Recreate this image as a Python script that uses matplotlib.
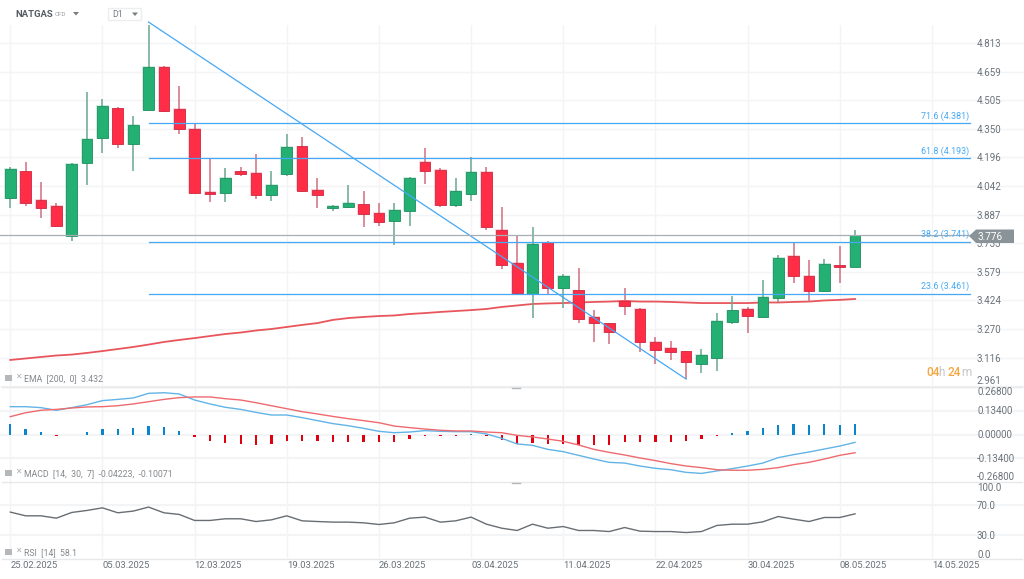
import matplotlib
matplotlib.use("Agg")
import matplotlib.pyplot as plt
from matplotlib.patches import Polygon, Rectangle

plt.rcParams['font.family'] = ['Roboto', 'DejaVu Sans']

W, H = 1024, 579

# candles
opens = [3.977, 4.122, 3.966, 3.934, 3.772, 4.166, 4.300, 4.462, 4.268, 4.452, 4.684, 4.457, 4.349, 4.009,
         4.004, 4.122, 4.112, 3.993, 4.106, 4.257, 4.020, 3.923, 3.928, 3.944, 3.896, 3.853, 3.907, 4.171,
         4.128, 3.939, 3.998, 4.117, 3.804, 3.626, 3.459, 3.739, 3.491, 3.480, 3.335, 3.302, 3.421, 3.378,
         3.200, 3.168, 3.151, 3.081, 3.113, 3.308, 3.378, 3.335, 3.437, 3.664, 3.556, 3.475, 3.615, 3.605]
closes = [4.133, 3.950, 3.923, 3.826, 4.160, 4.295, 4.473, 4.268, 4.371, 4.684, 4.446, 4.349, 4.004, 3.998,
          4.085, 4.106, 3.993, 4.047, 4.252, 4.015, 3.993, 3.934, 3.950, 3.890, 3.847, 3.912, 4.085, 4.122,
          3.939, 4.015, 4.117, 3.820, 3.615, 3.464, 3.729, 3.491, 3.556, 3.324, 3.302, 3.254, 3.394, 3.200,
          3.157, 3.146, 3.092, 3.130, 3.313, 3.372, 3.340, 3.443, 3.653, 3.556, 3.475, 3.621, 3.605, 3.776]
highs = [4.144, 4.171, 4.063, 3.950, 4.166, 4.549, 4.511, 4.468, 4.419, 4.926, 4.689, 4.581, 4.376, 4.187,
         4.139, 4.144, 4.214, 4.122, 4.322, 4.306, 4.085, 3.939, 4.047, 4.015, 3.950, 3.950, 4.090, 4.247,
         4.139, 4.085, 4.198, 4.144, 3.928, 3.777, 3.820, 3.745, 3.567, 3.599, 3.372, 3.302, 3.491, 3.383,
         3.227, 3.205, 3.151, 3.162, 3.356, 3.448, 3.389, 3.534, 3.669, 3.734, 3.642, 3.648, 3.718, 3.804]
lows = [3.923, 3.934, 3.869, 3.820, 3.745, 4.047, 4.220, 4.247, 4.122, 4.452, 4.441, 4.322, 4.004, 3.955,
        3.955, 4.095, 3.971, 3.961, 4.095, 4.009, 3.923, 3.907, 3.923, 3.820, 3.826, 3.723, 3.826, 4.052,
        3.928, 3.928, 3.961, 3.804, 3.594, 3.459, 3.329, 3.459, 3.383, 3.302, 3.200, 3.189, 3.346, 3.146,
        3.081, 3.103, 3.000, 3.033, 3.043, 3.297, 3.248, 3.329, 3.416, 3.518, 3.416, 3.470, 3.518, 3.605]
ema = [3.103, 3.111, 3.119, 3.127, 3.132, 3.141, 3.151, 3.162, 3.173, 3.186, 3.200, 3.211, 3.221, 3.232,
       3.243, 3.251, 3.262, 3.270, 3.281, 3.292, 3.302, 3.319, 3.329, 3.335, 3.340, 3.343, 3.351, 3.356,
       3.362, 3.367, 3.372, 3.378, 3.389, 3.397, 3.405, 3.408, 3.410, 3.413, 3.416, 3.418, 3.421, 3.418,
       3.418, 3.416, 3.413, 3.410, 3.410, 3.410, 3.410, 3.413, 3.413, 3.416, 3.418, 3.424, 3.427, 3.432]

macd = [.1615, .1615, .156, .141, .156, .173, .196, .203, .211, .2375, .241, .234, .1995, .177, .158, .146,
        .129, .114, .114, .099, .082, .065, .053, .038, .021, .013, .017, .025, .021, .019, .019, .006,
        -.019, -.051, -.059, -.082, -.095, -.116, -.137, -.156, -.160, -.177, -.190, -.198, -.213, -.219,
        -.205, -.192, -.177, -.160, -.129, -.112, -.097, -.080, -.063, -.042]
signal = [.1045, .127, .141, .146, .154, .160, .1615, .167, .177, .190, .203, .213, .217, .217, .207, .1995,
          .184, .167, .150, .133, .120, .106, .093, .082, .070, .051, .042, .034, .027, .023, .023, .017,
          .013, -.002, -.011, -.023, -.036, -.057, -.082, -.099, -.114, -.131, -.146, -.163, -.177, -.186,
          -.198, -.201, -.201, -.196, -.186, -.169, -.156, -.137, -.116, -.101]
hist = [.061, .034, .017, -.006, 0, .017, .034, .034, .038, .051, .044, .025, -.011, -.034, -.046, -.051,
        -.055, -.051, -.034, -.034, -.034, -.038, -.038, -.042, -.042, -.038, -.021, -.008, -.008, -.006,
        .004, -.008, -.029, -.051, -.046, -.053, -.049, -.057, -.055, -.055, -.042, -.042, -.042, -.038,
        -.034, -.025, -.006, .011, .025, .038, .055, .061, .055, .061, .055, .061]
rsi = [60.4, 55.5, 55.5, 52.4, 59.9, 62.6, 66.0, 59.5, 61.7, 67.0, 59.5, 57.3, 49.4, 49.4, 51.6, 51.6, 48.0,
       50.2, 55.5, 48.9, 48.0, 47.2, 47.2, 46.3, 44.1, 46.3, 52.4, 53.8, 47.2, 48.9, 53.8, 44.5, 39.2, 36.2,
       44.5, 39.2, 41.4, 36.2, 36.2, 34.8, 40.1, 35.3, 34.8, 34.8, 33.5, 34.8, 42.8, 44.5, 44.5, 47.6, 54.6,
       51.1, 48.0, 53.3, 53.3, 58.1]

price_ticks = [4.813, 4.659, 4.505, 4.350, 4.196, 4.042, 3.887, 3.733, 3.579, 3.424, 3.270, 3.116, 2.961]
macd_ticks = [0.268, 0.134, 0.0, -0.134, -0.268]
rsi_ticks = [100, 70, 30, 0]
date_pos = [0, 6, 12, 18, 24, 30, 36, 42, 48, 54, 60]
date_labels = ['25.02.2025', '05.03.2025', '12.03.2025', '19.03.2025', '26.03.2025', '03.04.2025',
               '11.04.2025', '22.04.2025', '30.04.2025', '08.05.2025', '14.05.2025']
fib_levels = [71.6, 61.8, 38.2, 23.6]
fib_prices = [4.381, 4.193, 3.741, 3.461]

last_price = 3.776
GREY = '#6b7278'
GRID = '#f3f4f6'
BLUE = '#45a8f5'


def panel(top, bottom):
    # axes given in pixels from the top of the figure
    ax = fig.add_axes([0, 1 - bottom / H, 1, (bottom - top) / H])
    ax.set_xlim(-0.67, 66.0)
    ax.axis('off')
    for p in date_pos:
        ax.axvline(p, color=GRID, lw=1, zorder=0)
    return ax


def px_text(x, y, s, **kw):
    kw.setdefault('va', 'center')
    kw.setdefault('color', GREY)
    kw.setdefault('fontsize', 7)
    return fig.text(x / W, 1 - y / H, s, **kw)


def legend_row(y, s):
    # little chart + close icons in front of the indicator name
    fig.add_artist(Rectangle((4.5 / W, 1 - (y + 3) / H), 7.5 / W, 6 / H, color='#b4b8bb', lw=0))
    px_text(15, y - 1, '✕', fontsize=5.5, color='#a9adb0')
    px_text(24, y + 1, s, fontsize=6.3, color='#85898d')


fig = plt.figure(figsize=(W / 100, H / 100), dpi=100, facecolor='white')

ax = panel(25, 387)
ax.set_ylim(5.045 - 0.005395 * 387, 5.045 - 0.005395 * 25)
for t in price_ticks:
    ax.axhline(t, color=GRID, lw=1, zorder=0)

ax.plot(range(len(ema)), ema, color='#e8565c', lw=1.3, zorder=2)

for i in range(len(opens)):
    up = closes[i] >= opens[i]
    fill, edge, wick = ('#23b072', '#1f8f60', '#6aa890') if up else ('#ff2d46', '#cc2a42', '#cf7080')
    low_body = min(opens[i], closes[i])
    body = abs(closes[i] - opens[i])
    ax.vlines(i, lows[i], highs[i], color=wick, lw=1.1, zorder=3)
    # soft halo around the body, as in the screenshot
    ax.bar(i, body + 0.006, bottom=low_body - 0.003, width=0.82, color=fill, alpha=0.22, lw=0, zorder=3.5)
    ax.bar(i, body, bottom=low_body, width=0.70, color=fill, edgecolor=edge, lw=0.6, zorder=4)

# fibonacci retracement
ax.plot([9, 44], [highs[9], lows[44]], color=BLUE, lw=0.9, zorder=5, clip_on=False)
for lev, p in zip(fib_levels, fib_prices):
    ax.plot([9, 62.5], [p, p], color=BLUE, lw=0.9, zorder=5)
    ax.text(62.4, p + 0.012, f'{lev} ({p:.3f})', color=BLUE, fontsize=6.4, ha='right', va='bottom', zorder=7)

ax.plot([-0.67, 62.5], [last_price, last_price], color='#a7afb2', lw=0.9, zorder=6)

for t in price_ticks:
    va = 'bottom' if t == price_ticks[-1] else 'center_baseline'
    ax.text(976.5 / W, t, f'{t:.3f}', transform=ax.get_yaxis_transform(), fontsize=7, color=GREY, va=va, clip_on=False)

# last price tag
tag = Polygon([(969 / W, 1 - 236 / H), (976 / W, 1 - 229.5 / H), (1014 / W, 1 - 229.5 / H),
               (1014 / W, 1 - 243 / H), (976 / W, 1 - 243 / H)], closed=True, color='#8a9397', lw=0, zorder=8)
fig.add_artist(tag)
px_text(977.5, 236.5, f'{last_price:.3f}', color='white', fontsize=7.2, zorder=9)

# MACD panel
ax2 = panel(387, 482)
ax2.set_ylim(-0.268, 0.2737)
for t in macd_ticks[1:4]:
    ax2.axhline(t, color=GRID, lw=1.5, zorder=0)
bar_cols = ['#0a84cc' if v >= 0 else '#e0000f' for v in hist]
ax2.bar(range(len(hist)), hist, width=0.15, color=bar_cols, zorder=2)
ax2.plot(range(len(macd)), macd, color='#62b4e6', lw=1.0, zorder=3)
ax2.plot(range(len(signal)), signal, color='#ee6a6e', lw=1.0, zorder=3)
for t, y in zip(macd_ticks, [392, 411, 434.5, 458.5, 477.5]):
    px_text(977, y, f'{t:.5f}', fontsize=7)

# RSI panel
ax3 = panel(482, 558)
ax3.set_ylim(0, 100)
for t in rsi_ticks[1:3]:
    ax3.axhline(t, color=GRID, lw=1.5, zorder=0)
ax3.plot(range(len(rsi)), rsi, color='#686e73', lw=1.0, zorder=3)
for t, y in zip(rsi_ticks, [488, 506, 536, 555]):
    px_text(977, y, f'{t:.1f}', fontsize=7)

# panel separators
for y in [387, 482, 558.5]:
    fig.add_artist(plt.Line2D([2 / W, 1022 / W], [1 - y / H, 1 - y / H], color='#e6e8ea', lw=1))
for y in [388, 483]:
    fig.add_artist(plt.Line2D([512 / W, 520 / W], [1 - y / H, 1 - y / H], color='#b5b8ba', lw=1))

# date labels
for p, lab in zip(date_pos, date_labels):
    px_text(10.3 + 15.36 * p, 566, lab, fontsize=6.8)

legend_row(378, 'EMA  [200,  0]  3.432')
legend_row(472.5, 'MACD  [14,  30,  7]  -0.04223,  -0.10071')
legend_row(552, 'RSI  [14]  58.1')

# header
px_text(15, 14.5, 'NATGAS', fontsize=6.8, fontweight='bold', color='#555c63')
px_text(55, 15, 'CFD', fontsize=4.5, color='#9a9ea2')
fig.add_artist(Polygon([(73 / W, 1 - 12 / H), (79 / W, 1 - 12 / H), (76 / W, 1 - 15.5 / H)], closed=True,
                       color='#777c80', lw=0))
fig.add_artist(Rectangle((107.5 / W, 1 - 20 / H), 33.5 / W, 12 / H, facecolor='white', edgecolor='#eceef0', lw=1))
px_text(112, 14.5, 'D1', fontsize=6.3, color='#777c80')
fig.add_artist(Polygon([(132 / W, 1 - 12.5 / H), (138 / W, 1 - 12.5 / H), (135 / W, 1 - 16 / H)], closed=True,
                       color='#777c80', lw=0))

# countdown
px_text(926, 372, '04', fontsize=8.5, color='#f7a63f', fontweight='medium')
px_text(938.5, 372, 'h', fontsize=8.5, color='#c4c7ca')
px_text(948, 372, '24', fontsize=8.5, color='#f7a63f', fontweight='medium')
px_text(961, 372, 'm', fontsize=8.5, color='#c4c7ca')

fig.savefig('out.png', dpi=100)
